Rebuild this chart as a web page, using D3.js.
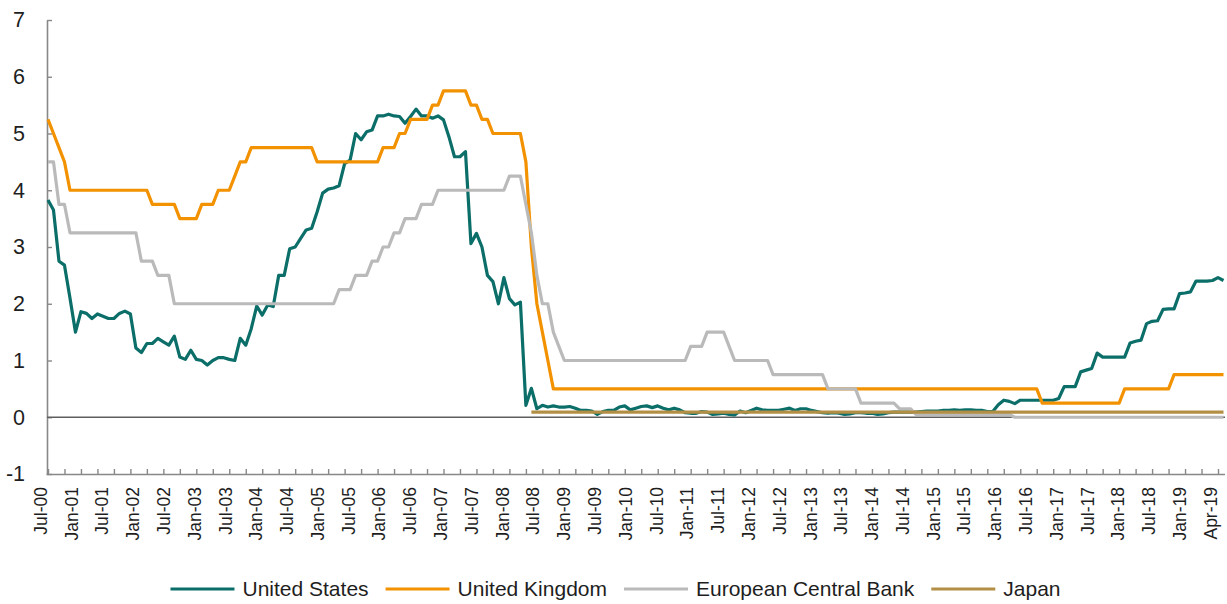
<!DOCTYPE html>
<html>
<head>
<meta charset="utf-8">
<script src="https://cdn.jsdelivr.net/npm/d3@7"></script>
<style>
  body { margin: 0; background: #fff; }
  svg { display: block; }
</style>
</head>
<body>
<script>
// Monthly policy-rate series, one value per month (first point = Jul-01, last = May-19)
const usRate = [
  3.83, 3.65, 2.75, 2.68, 2.10, 1.50, 1.86, 1.83, 1.74, 1.82,
  1.78, 1.74, 1.74, 1.83, 1.87, 1.82, 1.22, 1.14, 1.30, 1.30,
  1.39, 1.33, 1.27, 1.43, 1.06, 1.02, 1.18, 1.02, 1.00, 0.92,
  1.00, 1.05, 1.05, 1.02, 1.00, 1.39, 1.27, 1.56, 1.96, 1.80,
  1.98, 1.95, 2.50, 2.50, 2.97, 3.00, 3.15, 3.30, 3.33, 3.62,
  3.95, 4.02, 4.04, 4.08, 4.47, 4.53, 5.00, 4.89, 5.03, 5.06,
  5.31, 5.31, 5.34, 5.31, 5.30, 5.18, 5.30, 5.43, 5.31, 5.31,
  5.27, 5.31, 5.24, 4.94, 4.59, 4.59, 4.68, 3.06, 3.24, 3.00,
  2.50, 2.39, 2.00, 2.46, 2.09, 1.98, 2.03, 0.21, 0.51, 0.15,
  0.21, 0.18, 0.20, 0.18, 0.18, 0.19, 0.16, 0.12, 0.12, 0.11,
  0.05, 0.10, 0.12, 0.12, 0.18, 0.20, 0.13, 0.16, 0.19, 0.20,
  0.17, 0.20, 0.16, 0.13, 0.16, 0.13, 0.08, 0.07, 0.07, 0.10,
  0.09, 0.05, 0.06, 0.07, 0.05, 0.04, 0.11, 0.08, 0.12, 0.16,
  0.13, 0.12, 0.12, 0.12, 0.14, 0.16, 0.12, 0.15, 0.15, 0.12,
  0.10, 0.08, 0.07, 0.08, 0.07, 0.05, 0.06, 0.08, 0.08, 0.07,
  0.07, 0.05, 0.06, 0.08, 0.09, 0.09, 0.09, 0.09, 0.09, 0.10,
  0.11, 0.11, 0.11, 0.12, 0.12, 0.13, 0.12, 0.13, 0.13, 0.12,
  0.12, 0.10, 0.10, 0.22, 0.30, 0.28, 0.24, 0.30, 0.30, 0.30,
  0.30, 0.30, 0.30, 0.30, 0.33, 0.54, 0.54, 0.54, 0.80, 0.83,
  0.86, 1.13, 1.06, 1.06, 1.06, 1.06, 1.06, 1.31, 1.34, 1.36,
  1.65, 1.69, 1.70, 1.90, 1.91, 1.91, 2.18, 2.19, 2.21, 2.40,
  2.40, 2.40, 2.41, 2.46, 2.41
];

const ukRate = [
  5.25, 5.00, 4.75, 4.50, 4.00, 4.00, 4.00, 4.00, 4.00, 4.00,
  4.00, 4.00, 4.00, 4.00, 4.00, 4.00, 4.00, 4.00, 4.00, 3.75,
  3.75, 3.75, 3.75, 3.75, 3.50, 3.50, 3.50, 3.50, 3.75, 3.75,
  3.75, 4.00, 4.00, 4.00, 4.25, 4.50, 4.50, 4.75, 4.75, 4.75,
  4.75, 4.75, 4.75, 4.75, 4.75, 4.75, 4.75, 4.75, 4.75, 4.50,
  4.50, 4.50, 4.50, 4.50, 4.50, 4.50, 4.50, 4.50, 4.50, 4.50,
  4.50, 4.75, 4.75, 4.75, 5.00, 5.00, 5.25, 5.25, 5.25, 5.25,
  5.50, 5.50, 5.75, 5.75, 5.75, 5.75, 5.75, 5.50, 5.50, 5.25,
  5.25, 5.00, 5.00, 5.00, 5.00, 5.00, 5.00, 4.50, 3.00, 2.00,
  1.50, 1.00, 0.50, 0.50, 0.50, 0.50, 0.50, 0.50, 0.50, 0.50,
  0.50, 0.50, 0.50, 0.50, 0.50, 0.50, 0.50, 0.50, 0.50, 0.50,
  0.50, 0.50, 0.50, 0.50, 0.50, 0.50, 0.50, 0.50, 0.50, 0.50,
  0.50, 0.50, 0.50, 0.50, 0.50, 0.50, 0.50, 0.50, 0.50, 0.50,
  0.50, 0.50, 0.50, 0.50, 0.50, 0.50, 0.50, 0.50, 0.50, 0.50,
  0.50, 0.50, 0.50, 0.50, 0.50, 0.50, 0.50, 0.50, 0.50, 0.50,
  0.50, 0.50, 0.50, 0.50, 0.50, 0.50, 0.50, 0.50, 0.50, 0.50,
  0.50, 0.50, 0.50, 0.50, 0.50, 0.50, 0.50, 0.50, 0.50, 0.50,
  0.50, 0.50, 0.50, 0.50, 0.50, 0.50, 0.50, 0.50, 0.50, 0.50,
  0.50, 0.25, 0.25, 0.25, 0.25, 0.25, 0.25, 0.25, 0.25, 0.25,
  0.25, 0.25, 0.25, 0.25, 0.25, 0.25, 0.50, 0.50, 0.50, 0.50,
  0.50, 0.50, 0.50, 0.50, 0.50, 0.75, 0.75, 0.75, 0.75, 0.75,
  0.75, 0.75, 0.75, 0.75, 0.75
];

const ecbRate = [
  4.50, 4.50, 3.75, 3.75, 3.25, 3.25, 3.25, 3.25, 3.25, 3.25,
  3.25, 3.25, 3.25, 3.25, 3.25, 3.25, 3.25, 2.75, 2.75, 2.75,
  2.50, 2.50, 2.50, 2.00, 2.00, 2.00, 2.00, 2.00, 2.00, 2.00,
  2.00, 2.00, 2.00, 2.00, 2.00, 2.00, 2.00, 2.00, 2.00, 2.00,
  2.00, 2.00, 2.00, 2.00, 2.00, 2.00, 2.00, 2.00, 2.00, 2.00,
  2.00, 2.00, 2.00, 2.25, 2.25, 2.25, 2.50, 2.50, 2.50, 2.75,
  2.75, 3.00, 3.00, 3.25, 3.25, 3.50, 3.50, 3.50, 3.75, 3.75,
  3.75, 4.00, 4.00, 4.00, 4.00, 4.00, 4.00, 4.00, 4.00, 4.00,
  4.00, 4.00, 4.00, 4.00, 4.25, 4.25, 4.25, 3.75, 3.25, 2.50,
  2.00, 2.00, 1.50, 1.25, 1.00, 1.00, 1.00, 1.00, 1.00, 1.00,
  1.00, 1.00, 1.00, 1.00, 1.00, 1.00, 1.00, 1.00, 1.00, 1.00,
  1.00, 1.00, 1.00, 1.00, 1.00, 1.00, 1.00, 1.25, 1.25, 1.25,
  1.50, 1.50, 1.50, 1.50, 1.25, 1.00, 1.00, 1.00, 1.00, 1.00,
  1.00, 1.00, 0.75, 0.75, 0.75, 0.75, 0.75, 0.75, 0.75, 0.75,
  0.75, 0.75, 0.50, 0.50, 0.50, 0.50, 0.50, 0.50, 0.25, 0.25,
  0.25, 0.25, 0.25, 0.25, 0.25, 0.15, 0.15, 0.15, 0.05, 0.05,
  0.05, 0.05, 0.05, 0.05, 0.05, 0.05, 0.05, 0.05, 0.05, 0.05,
  0.05, 0.05, 0.05, 0.05, 0.05, 0.05, 0.00, 0.00, 0.00, 0.00,
  0.00, 0.00, 0.00, 0.00, 0.00, 0.00, 0.00, 0.00, 0.00, 0.00,
  0.00, 0.00, 0.00, 0.00, 0.00, 0.00, 0.00, 0.00, 0.00, 0.00,
  0.00, 0.00, 0.00, 0.00, 0.00, 0.00, 0.00, 0.00, 0.00, 0.00,
  0.00, 0.00, 0.00, 0.00, 0.00
];

// Japan series only starts in Nov-08
const japanRate = [
  null, null, null, null, null, null, null, null, null, null,
  null, null, null, null, null, null, null, null, null, null,
  null, null, null, null, null, null, null, null, null, null,
  null, null, null, null, null, null, null, null, null, null,
  null, null, null, null, null, null, null, null, null, null,
  null, null, null, null, null, null, null, null, null, null,
  null, null, null, null, null, null, null, null, null, null,
  null, null, null, null, null, null, null, null, null, null,
  null, null, null, null, null, null, null, null, 0.09, 0.09,
  0.09, 0.09, 0.09, 0.09, 0.09, 0.09, 0.09, 0.09, 0.09, 0.09,
  0.09, 0.09, 0.09, 0.09, 0.09, 0.09, 0.09, 0.09, 0.09, 0.09,
  0.09, 0.09, 0.09, 0.09, 0.09, 0.09, 0.09, 0.09, 0.09, 0.09,
  0.09, 0.09, 0.09, 0.09, 0.09, 0.09, 0.09, 0.09, 0.09, 0.09,
  0.09, 0.09, 0.09, 0.09, 0.09, 0.09, 0.09, 0.09, 0.09, 0.09,
  0.09, 0.09, 0.09, 0.09, 0.09, 0.09, 0.09, 0.09, 0.09, 0.09,
  0.09, 0.09, 0.09, 0.09, 0.09, 0.09, 0.09, 0.09, 0.09, 0.09,
  0.09, 0.09, 0.09, 0.09, 0.09, 0.09, 0.09, 0.09, 0.09, 0.09,
  0.09, 0.09, 0.09, 0.09, 0.09, 0.09, 0.09, 0.09, 0.09, 0.09,
  0.09, 0.09, 0.09, 0.09, 0.09, 0.09, 0.09, 0.09, 0.09, 0.09,
  0.09, 0.09, 0.09, 0.09, 0.09, 0.09, 0.09, 0.09, 0.09, 0.09,
  0.09, 0.09, 0.09, 0.09, 0.09, 0.09, 0.09, 0.09, 0.09, 0.09,
  0.09, 0.09, 0.09, 0.09, 0.09
];

// Category labels as printed under the axis
const tickLabels = [
  "Jul-00", "Jan-01", "Jul-01", "Jan-02", "Jul-02", "Jan-03", "Jul-03", "Jan-04",
  "Jul-04", "Jan-05", "Jul-05", "Jan-06", "Jul-06", "Jan-07", "Jul-07", "Jan-08",
  "Jul-08", "Jan-09", "Jul-09", "Jan-10", "Jul-10", "Jan-11", "Jul-11", "Jan-12",
  "Jul-12", "Jan-13", "Jul-13", "Jan-14", "Jul-14", "Jan-15", "Jul-15", "Jan-16",
  "Jul-16", "Jan-17", "Jul-17", "Jan-18", "Jul-18", "Jan-19", "Apr-19"
];

const yTicks = [-1, 0, 1, 2, 3, 4, 5, 6, 7];
const seriesNames = ["United States", "United Kingdom", "European Central Bank", "Japan"];
const seriesValues = [usRate, ukRate, ecbRate, japanRate];
const seriesColors = ["#0b6e69", "#f39200", "#bababa", "#b38f45"];

const width = 1227, height = 604;
const fontFamily = "Arial, 'Liberation Sans', sans-serif";
const textColor = "#1e1e1e";
const axisColor = "#888888";

const svg = d3.select("body").append("svg")
    .attr("xmlns", "http://www.w3.org/2000/svg")
    .attr("width", width)
    .attr("height", height)
    .style("font-family", fontFamily);

svg.append("rect")
    .attr("width", width)
    .attr("height", height)
    .attr("fill", "#fff");

// scales
const x = d3.scaleLinear()
    .domain([0, usRate.length - 1])
    .range([48, 1223.5]);

const y = d3.scaleLinear()
    .domain([-1, 7])
    .range([474, 20]);

// labels are spread evenly along the axis, independent of the monthly points
const xLabel = d3.scalePoint()
    .domain(tickLabels)
    .range([40, 1210]);

// y axis (plain hyphen for the minus sign, as in the original)
const yAxis = svg.append("g")
    .attr("transform", "translate(47,0)")
    .call(d3.axisLeft(y)
        .tickValues(yTicks)
        .tickSize(-5)
        .tickSizeOuter(0)
        .tickPadding(22)
        .tickFormat(d => String(d)));

yAxis.select(".domain").attr("stroke", axisColor).attr("stroke-width", 1.6);
yAxis.selectAll(".tick line").attr("stroke", axisColor).attr("stroke-width", 1.4);
yAxis.selectAll(".tick text")
    .attr("font-size", 21.5)
    .attr("font-family", fontFamily)
    .attr("fill", textColor);

// x axis: tick marks every 3 months
const xAxis = svg.append("g")
    .attr("transform", `translate(0,${y(-1)})`)
    .call(d3.axisBottom(x)
        .tickValues(d3.range(0, usRate.length, 3))
        .tickSize(-5)
        .tickSizeOuter(0)
        .tickFormat(() => ""));

xAxis.select(".domain").remove();
xAxis.selectAll(".tick line").attr("stroke", axisColor).attr("stroke-width", 1.4);

xAxis.append("line")
    .attr("x1", 46.5)
    .attr("x2", 1225)
    .attr("y1", 0.5)
    .attr("y2", 0.5)
    .attr("stroke", axisColor)
    .attr("stroke-width", 1.6);

// x labels, rotated
const labelAxis = svg.append("g")
    .attr("transform", `translate(0,${y(-1)})`)
    .call(d3.axisBottom(xLabel).tickSize(0));

labelAxis.select(".domain").remove();
labelAxis.selectAll(".tick text")
    .attr("transform", "rotate(-90)")
    .attr("text-anchor", "end")
    .attr("x", -13)
    .attr("y", 0)
    .attr("dy", "0.36em")
    .attr("font-size", 17.5)
    .attr("font-family", fontFamily)
    .attr("fill", textColor);

// zero line
svg.append("line")
    .attr("x1", 47)
    .attr("x2", 1225)
    .attr("y1", y(0))
    .attr("y2", y(0))
    .attr("stroke", "#5e5e5e")
    .attr("stroke-width", 1.3);

// series lines
const line = d3.line()
    .defined(d => d != null)
    .x((d, i) => x(i))
    .y(d => y(d));

svg.append("g")
    .selectAll("path")
    .data(seriesValues)
    .join("path")
    .attr("d", line)
    .attr("fill", "none")
    .attr("stroke", (d, i) => seriesColors[i])
    .attr("stroke-width", 3.2)
    .attr("stroke-linejoin", "round")
    .attr("stroke-linecap", "butt");

// legend
const legend = svg.append("g")
    .attr("transform", "translate(0,589)");

const items = legend.selectAll("g")
    .data(seriesNames)
    .join("g");

items.append("line")
    .attr("x1", 0)
    .attr("x2", 64)
    .attr("y1", 0)
    .attr("y2", 0)
    .attr("stroke", (d, i) => seriesColors[i])
    .attr("stroke-width", 3.2);

items.append("text")
    .attr("x", 72)
    .attr("dy", "0.35em")
    .attr("font-size", 21)
    .attr("font-family", fontFamily)
    .attr("fill", textColor)
    .text(d => d);

// lay legend items out side by side, centred
const gap = 17;
let cursor = 0;
const offsets = [];
items.each(function() {
    offsets.push(cursor);
    const w = 72 + this.querySelector("text").getComputedTextLength();
    cursor += w + gap;
});
const totalWidth = cursor - gap;
const startX = (width - totalWidth) / 2 + 2;
items.attr("transform", (d, i) => `translate(${startX + offsets[i]},0)`);
</script>
</body>
</html>
